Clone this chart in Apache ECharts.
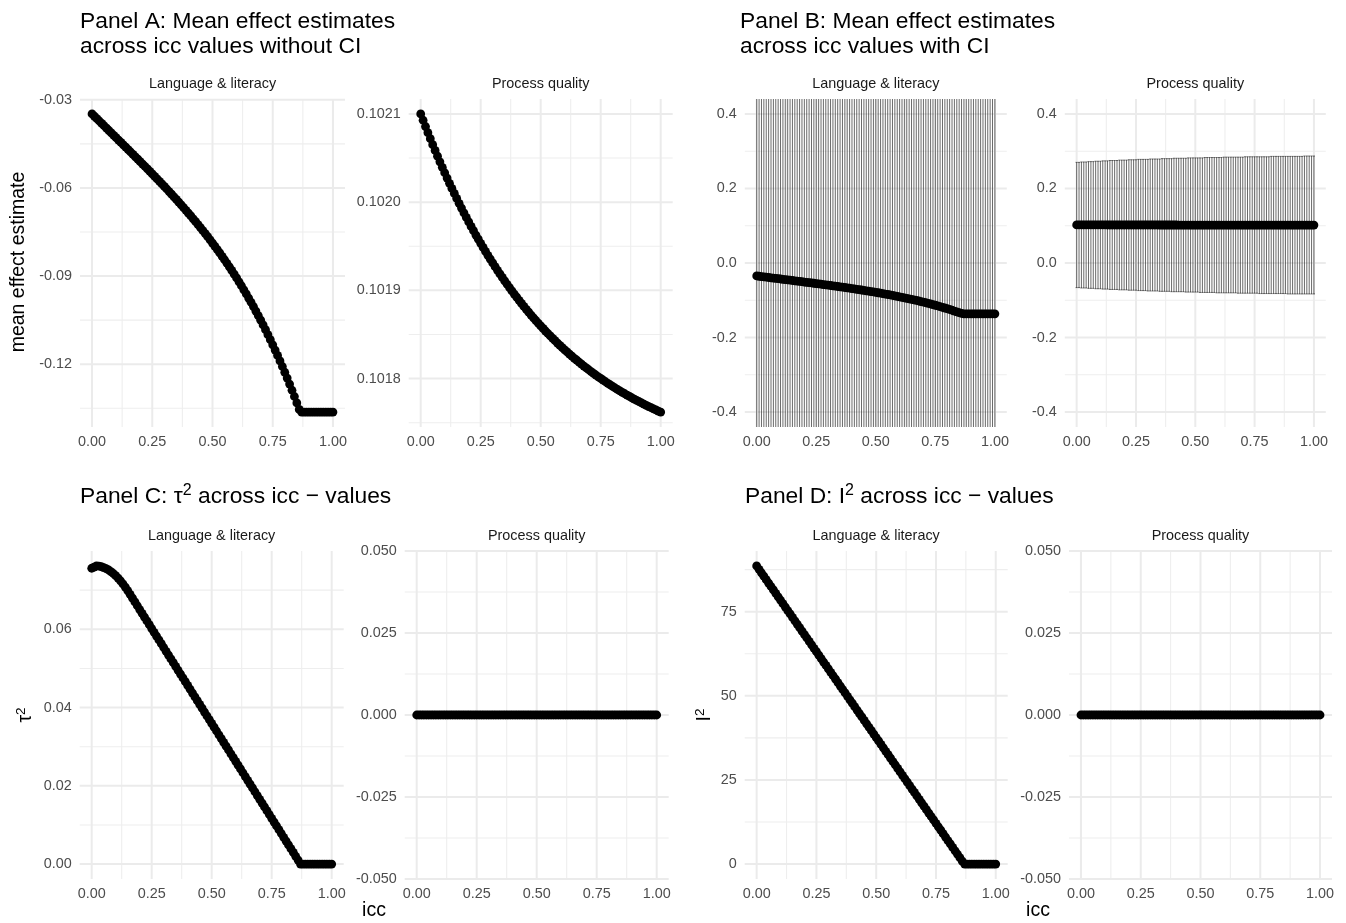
<!DOCTYPE html>
<html><head><meta charset="utf-8">
<script src="https://cdn.jsdelivr.net/npm/echarts@6/dist/echarts.min.js"></script>
<style>html,body{margin:0;padding:0;background:#fff}#c{width:1346px;height:923px}</style>
</head><body><div id="c"></div>
<script>
// ---------- data ----------
const icc = [0,0.01,0.02,0.03,0.04,0.05,0.06,0.07,0.08,0.09,
0.1,0.11,0.12,0.13,0.14,0.15,0.16,0.17,0.18,0.19,
0.2,0.21,0.22,0.23,0.24,0.25,0.26,0.27,0.28,0.29,
0.3,0.31,0.32,0.33,0.34,0.35,0.36,0.37,0.38,0.39,
0.4,0.41,0.42,0.43,0.44,0.45,0.46,0.47,0.48,0.49,
0.5,0.51,0.52,0.53,0.54,0.55,0.56,0.57,0.58,0.59,
0.6,0.61,0.62,0.63,0.64,0.65,0.66,0.67,0.68,0.69,
0.7,0.71,0.72,0.73,0.74,0.75,0.76,0.77,0.78,0.79,
0.8,0.81,0.82,0.83,0.84,0.85,0.86,0.87,0.88,0.89,
0.9,0.91,0.92,0.93,0.94,0.95,0.96,0.97,0.98,0.99,1];

const facets = ["Language & literacy", "Process quality"];

// mean effect estimate, Language & literacy
const langMean = [-0.03480,-0.03561,-0.03642,-0.03722,-0.03803,-0.03884,-0.03965,-0.04046,-0.04127,-0.04208,
-0.04289,-0.04370,-0.04451,-0.04532,-0.04613,-0.04695,-0.04777,-0.04858,-0.04940,-0.05023,
-0.05105,-0.05188,-0.05271,-0.05354,-0.05438,-0.05522,-0.05607,-0.05692,-0.05777,-0.05863,
-0.05950,-0.06037,-0.06125,-0.06214,-0.06303,-0.06393,-0.06484,-0.06576,-0.06669,-0.06763,
-0.06858,-0.06954,-0.07051,-0.07149,-0.07248,-0.07349,-0.07452,-0.07555,-0.07660,-0.07767,
-0.07876,-0.07986,-0.08098,-0.08211,-0.08327,-0.08445,-0.08564,-0.08686,-0.08810,-0.08937,
-0.09065,-0.09197,-0.09330,-0.09467,-0.09606,-0.09748,-0.09892,-0.10040,-0.10191,-0.10345,
-0.10502,-0.10663,-0.10827,-0.10994,-0.11165,-0.11340,-0.11519,-0.11702,-0.11889,-0.12079,
-0.12275,-0.12474,-0.12678,-0.12887,-0.13100,-0.13318,-0.13541,-0.13630,-0.13630,-0.13630,
-0.13630,-0.13630,-0.13630,-0.13630,-0.13630,-0.13630,-0.13630,-0.13630,-0.13630,-0.13630,-0.13630];

// mean effect estimate, Process quality
const procMean = [0.1021000,0.1020928,0.1020857,0.1020787,0.1020719,0.1020651,0.1020586,0.1020521,0.1020457,0.1020394,
0.1020333,0.1020273,0.1020213,0.1020155,0.1020098,0.1020042,0.1019987,0.1019933,0.1019879,0.1019827,
0.1019776,0.1019725,0.1019676,0.1019627,0.1019580,0.1019533,0.1019487,0.1019441,0.1019397,0.1019353,
0.1019311,0.1019268,0.1019227,0.1019186,0.1019147,0.1019107,0.1019069,0.1019031,0.1018994,0.1018958,
0.1018922,0.1018887,0.1018852,0.1018818,0.1018785,0.1018752,0.1018720,0.1018689,0.1018658,0.1018627,
0.1018597,0.1018568,0.1018539,0.1018511,0.1018483,0.1018456,0.1018429,0.1018402,0.1018376,0.1018351,
0.1018326,0.1018302,0.1018277,0.1018254,0.1018230,0.1018208,0.1018185,0.1018163,0.1018142,0.1018120,
0.1018100,0.1018079,0.1018059,0.1018039,0.1018020,0.1018001,0.1017982,0.1017964,0.1017945,0.1017928,
0.1017910,0.1017893,0.1017876,0.1017860,0.1017844,0.1017828,0.1017812,0.1017797,0.1017782,0.1017767,
0.1017752,0.1017738,0.1017724,0.1017710,0.1017697,0.1017683,0.1017670,0.1017657,0.1017645,0.1017632,0.1017620];

// 95% CI, Language & literacy (extends beyond the shown range)
const langLower = [-0.63,-0.64,-0.64,-0.64,-0.64,-0.64,-0.64,-0.64,-0.64,-0.64,
-0.64,-0.64,-0.64,-0.65,-0.65,-0.65,-0.65,-0.65,-0.65,-0.65,
-0.65,-0.65,-0.65,-0.65,-0.65,-0.66,-0.66,-0.66,-0.66,-0.66,
-0.66,-0.66,-0.66,-0.66,-0.66,-0.66,-0.66,-0.67,-0.67,-0.67,
-0.67,-0.67,-0.67,-0.67,-0.67,-0.67,-0.67,-0.68,-0.68,-0.68,
-0.68,-0.68,-0.68,-0.68,-0.68,-0.68,-0.69,-0.69,-0.69,-0.69,
-0.69,-0.69,-0.69,-0.69,-0.70,-0.70,-0.70,-0.70,-0.70,-0.70,
-0.71,-0.71,-0.71,-0.71,-0.71,-0.71,-0.72,-0.72,-0.72,-0.72,
-0.72,-0.72,-0.73,-0.73,-0.73,-0.73,-0.74,-0.74,-0.74,-0.74,
-0.74,-0.74,-0.74,-0.74,-0.74,-0.74,-0.74,-0.74,-0.74,-0.74,-0.74];
const langUpper = [0.57,0.56,0.56,0.56,0.56,0.56,0.56,0.56,0.56,0.56,
0.56,0.56,0.56,0.55,0.55,0.55,0.55,0.55,0.55,0.55,
0.55,0.55,0.55,0.55,0.55,0.54,0.54,0.54,0.54,0.54,
0.54,0.54,0.54,0.54,0.54,0.54,0.54,0.53,0.53,0.53,
0.53,0.53,0.53,0.53,0.53,0.53,0.53,0.52,0.52,0.52,
0.52,0.52,0.52,0.52,0.52,0.52,0.51,0.51,0.51,0.51,
0.51,0.51,0.51,0.51,0.50,0.50,0.50,0.50,0.50,0.50,
0.49,0.49,0.49,0.49,0.49,0.49,0.48,0.48,0.48,0.48,
0.48,0.48,0.47,0.47,0.47,0.47,0.46,0.46,0.46,0.46,
0.46,0.46,0.46,0.46,0.46,0.46,0.46,0.46,0.46,0.46,0.46];

// 95% CI, Process quality
const procLower = [-0.066,-0.066,-0.067,-0.067,-0.067,-0.068,-0.068,-0.068,-0.069,-0.069,
-0.069,-0.070,-0.070,-0.070,-0.071,-0.071,-0.071,-0.071,-0.072,-0.072,
-0.072,-0.072,-0.073,-0.073,-0.073,-0.073,-0.074,-0.074,-0.074,-0.074,
-0.075,-0.075,-0.075,-0.075,-0.075,-0.076,-0.076,-0.076,-0.076,-0.076,
-0.077,-0.077,-0.077,-0.077,-0.077,-0.077,-0.078,-0.078,-0.078,-0.078,
-0.078,-0.078,-0.079,-0.079,-0.079,-0.079,-0.079,-0.079,-0.079,-0.080,
-0.080,-0.080,-0.080,-0.080,-0.080,-0.080,-0.080,-0.080,-0.081,-0.081,
-0.081,-0.081,-0.081,-0.081,-0.081,-0.081,-0.081,-0.082,-0.082,-0.082,
-0.082,-0.082,-0.082,-0.082,-0.082,-0.082,-0.082,-0.082,-0.082,-0.083,
-0.083,-0.083,-0.083,-0.083,-0.083,-0.083,-0.083,-0.083,-0.083,-0.083,-0.083];
const procUpper = [0.270,0.270,0.271,0.271,0.271,0.272,0.272,0.272,0.273,0.273,
0.273,0.274,0.274,0.274,0.275,0.275,0.275,0.275,0.276,0.276,
0.276,0.276,0.277,0.277,0.277,0.277,0.278,0.278,0.278,0.278,
0.278,0.279,0.279,0.279,0.279,0.279,0.280,0.280,0.280,0.280,
0.280,0.281,0.281,0.281,0.281,0.281,0.281,0.282,0.282,0.282,
0.282,0.282,0.282,0.282,0.283,0.283,0.283,0.283,0.283,0.283,
0.283,0.283,0.284,0.284,0.284,0.284,0.284,0.284,0.284,0.284,
0.284,0.285,0.285,0.285,0.285,0.285,0.285,0.285,0.285,0.285,
0.285,0.285,0.286,0.286,0.286,0.286,0.286,0.286,0.286,0.286,
0.286,0.286,0.286,0.286,0.286,0.286,0.287,0.287,0.287,0.287,0.287];

// tau^2
const langTau2 = [0.0756,0.0759,0.0762,0.07613,0.07599,0.07578,0.07551,0.07516,0.07474,0.07426,
0.07370,0.07308,0.07239,0.07163,0.07080,0.06990,0.06893,0.06796,0.06699,0.06602,
0.06505,0.06408,0.06311,0.06214,0.06117,0.06020,0.05923,0.05826,0.05729,0.05632,
0.05535,0.05438,0.05341,0.05244,0.05147,0.05050,0.04953,0.04856,0.04759,0.04662,
0.04565,0.04468,0.04371,0.04274,0.04177,0.04080,0.03983,0.03886,0.03789,0.03692,
0.03595,0.03498,0.03401,0.03304,0.03207,0.03110,0.03013,0.02916,0.02819,0.02722,
0.02625,0.02528,0.02431,0.02334,0.02237,0.02140,0.02043,0.01946,0.01849,0.01752,
0.01655,0.01558,0.01461,0.01364,0.01267,0.01170,0.01073,0.00976,0.00879,0.00782,
0.00685,0.00588,0.00491,0.00394,0.00297,0.00200,0.00103,0,0,0,
0,0,0,0,0,0,0,0,0,0,0];
const procTau2 = [0,0,0,0,0,0,0,0,0,0,0,0,0,0,0,0,0,0,0,0,0,0,0,0,0,0,0,0,0,0,0,0,0,0,0,0,0,0,0,0,0,0,0,0,0,0,0,0,0,0,
0,0,0,0,0,0,0,0,0,0,0,0,0,0,0,0,0,0,0,0,0,0,0,0,0,0,0,0,0,0,0,0,0,0,0,0,0,0,0,0,0,0,0,0,0,0,0,0,0,0,0];

// I^2
const langI2 = [88.60,87.58,86.56,85.54,84.52,83.50,82.48,81.46,80.44,79.42,
78.40,77.38,76.36,75.34,74.32,73.30,72.28,71.26,70.24,69.22,
68.20,67.18,66.16,65.14,64.12,63.10,62.08,61.06,60.04,59.02,
58.00,56.98,55.96,54.94,53.92,52.90,51.88,50.86,49.84,48.82,
47.80,46.78,45.76,44.74,43.72,42.70,41.68,40.66,39.64,38.62,
37.60,36.58,35.56,34.54,33.52,32.50,31.48,30.46,29.44,28.42,
27.40,26.38,25.36,24.34,23.32,22.30,21.28,20.26,19.24,18.22,
17.20,16.18,15.16,14.14,13.12,12.10,11.08,10.06,9.04,8.02,
7.00,5.98,4.96,3.94,2.92,1.90,0.88,0,0,0,
0,0,0,0,0,0,0,0,0,0,0];
const procI2 = [0,0,0,0,0,0,0,0,0,0,0,0,0,0,0,0,0,0,0,0,0,0,0,0,0,0,0,0,0,0,0,0,0,0,0,0,0,0,0,0,0,0,0,0,0,0,0,0,0,0,
0,0,0,0,0,0,0,0,0,0,0,0,0,0,0,0,0,0,0,0,0,0,0,0,0,0,0,0,0,0,0,0,0,0,0,0,0,0,0,0,0,0,0,0,0,0,0,0,0,0,0];

// tick labels (major) and minor gridline positions
const xTicks = [0, 0.25, 0.5, 0.75, 1];
const xMinor = [0.125, 0.375, 0.625, 0.875];
const yTicksMeanLang = [-0.12, -0.09, -0.06, -0.03];
const yMinorMeanLang = [-0.135, -0.105, -0.075, -0.045];
const yTicksMeanProc = [0.1018, 0.1019, 0.1020, 0.1021];
const yMinorMeanProc = [0.10175, 0.10185, 0.10195, 0.10205];
const yTicksCI = [-0.4, -0.2, 0, 0.2, 0.4];
const yMinorCI = [-0.3, -0.1, 0.1, 0.3];
const yTicksTau2Lang = [0, 0.02, 0.04, 0.06];
const yMinorTau2Lang = [0.01, 0.03, 0.05, 0.07];
const yTicksZero = [-0.05, -0.025, 0, 0.025, 0.05];
const yMinorZero = [-0.0375, -0.0125, 0.0125, 0.0375];
const yTicksI2Lang = [0, 25, 50, 75];
const yMinorI2Lang = [12.5, 37.5, 62.5, 87.5];

// ---------- layout ----------
const FONT = '"Liberation Sans", Arial, Helvetica, sans-serif';
const TICK_COLOR = '#4D4D4D';
const H = 328;
const panels = [
  {l:80,    t:99,  w:265, y:langMean,  ymin:-0.14138, ymax:-0.02973, ticks:yTicksMeanLang, minor:yMinorMeanLang, dec:2, strip:facets[0]},
  {l:408.7, t:99,  w:264, y:procMean,  ymin:0.1017451, ymax:0.1021169, ticks:yTicksMeanProc, minor:yMinorMeanProc, dec:4, strip:facets[1]},
  {l:744.8, t:99,  w:262, y:langMean,  lo:langLower, hi:langUpper, ymin:-0.44, ymax:0.44, ticks:yTicksCI, minor:yMinorCI, dec:1, strip:facets[0], ci:true},
  {l:1064.8,t:99,  w:261, y:procMean,  lo:procLower, hi:procUpper, ymin:-0.44, ymax:0.44, ticks:yTicksCI, minor:yMinorCI, dec:1, strip:facets[1], ci:true},
  {l:79.7,  t:551, w:264, y:langTau2,  ymin:-0.00381, ymax:0.08001, ticks:yTicksTau2Lang, minor:yMinorTau2Lang, dec:2, strip:facets[0]},
  {l:404.7, t:551, w:264, y:procTau2,  ymin:-0.05, ymax:0.05, ticks:yTicksZero, minor:yMinorZero, dec:3, strip:facets[1]},
  {l:744.7, t:551, w:263, y:langI2,    ymin:-4.43, ymax:93.03, ticks:yTicksI2Lang, minor:yMinorI2Lang, dec:0, strip:facets[0]},
  {l:1069,  t:551, w:263, y:procI2,    ymin:-0.05, ymax:0.05, ticks:yTicksZero, minor:yMinorZero, dec:3, strip:facets[1]}
];

function gridRender(params, api) {
  const cs = params.coordSys;
  const kind = api.value(2), major = api.value(3);
  const p = api.coord([api.value(0), api.value(1)]);
  const shape = kind === 0
    ? {x1: p[0], y1: cs.y, x2: p[0], y2: cs.y + cs.height}
    : {x1: cs.x, y1: p[1], x2: cs.x + cs.width, y2: p[1]};
  return {type: 'line', shape: shape, silent: true,
    style: {stroke: major ? '#EBEBEB' : '#EEEEEE', lineWidth: major ? 2 : 1.1}};
}

function errRender(params, api) {
  const cs = params.coordSys;
  const x = api.value(0), lo = api.value(1), hi = api.value(2);
  const pLo = api.coord([x, lo]), pHi = api.coord([x, hi]);
  const half = api.coord([x + 0.0045, lo])[0] - pLo[0];
  const top = cs.y, bot = cs.y + cs.height;
  const y1 = Math.max(pHi[1], top), y2 = Math.min(pLo[1], bot);
  const st = {stroke: '#1a1a1a', lineWidth: 0.65};
  const ch = [{type: 'line', shape: {x1: pLo[0], y1: y1, x2: pLo[0], y2: y2}, style: st}];
  if (pHi[1] >= top) ch.push({type: 'line', shape: {x1: pHi[0] - half, y1: pHi[1], x2: pHi[0] + half, y2: pHi[1]}, style: st});
  if (pLo[1] <= bot) ch.push({type: 'line', shape: {x1: pLo[0] - half, y1: pLo[1], x2: pLo[0] + half, y2: pLo[1]}, style: st});
  return {type: 'group', children: ch, silent: true};
}

const grid = [], xAxis = [], yAxis = [], series = [], graphic = [];
panels.forEach(function (p, i) {
  grid.push({left: p.l, top: p.t, width: p.w, height: H, containLabel: false, outerBoundsMode: 'none'});
  xAxis.push({type: 'value', gridIndex: i, min: -0.05, max: 1.05,
    axisLine: {show: false}, axisTick: {show: false}, splitLine: {show: false}, minorSplitLine: {show: false},
    axisLabel: {customValues: xTicks, formatter: function (v) { return v.toFixed(2); },
      color: TICK_COLOR, fontSize: 14.4, fontFamily: FONT, margin: 8}});
  yAxis.push({type: 'value', gridIndex: i, min: p.ymin, max: p.ymax,
    axisLine: {show: false}, axisTick: {show: false}, splitLine: {show: false}, minorSplitLine: {show: false},
    axisLabel: {customValues: p.ticks, formatter: function (v) { return v.toFixed(p.dec); },
      color: TICK_COLOR, fontSize: 14.4, fontFamily: FONT, margin: 8}});
  const midY = (p.ymin + p.ymax) / 2;
  const gdata = [];
  xMinor.forEach(function (v) { gdata.push([v, midY, 0, 0]); });
  p.minor.forEach(function (v) { gdata.push([0.5, v, 1, 0]); });
  xTicks.forEach(function (v) { gdata.push([v, midY, 0, 1]); });
  p.ticks.forEach(function (v) { gdata.push([0.5, v, 1, 1]); });
  series.push({type: 'custom', xAxisIndex: i, yAxisIndex: i, z: 1, silent: true,
    renderItem: gridRender, encode: {x: 0, y: 1}, data: gdata});
  if (p.ci) {
    series.push({type: 'custom', xAxisIndex: i, yAxisIndex: i, z: 2, silent: true,
      renderItem: errRender, encode: {x: 0, y: [1, 2]},
      data: icc.map(function (x, k) { return [x, p.lo[k], p.hi[k]]; })});
  }
  series.push({type: 'scatter', xAxisIndex: i, yAxisIndex: i, z: 3, silent: true,
    symbol: 'circle', symbolSize: 8.8, itemStyle: {color: '#000', opacity: 1},
    data: icc.map(function (x, k) { return [x, p.y[k]]; })});
  graphic.push({type: 'text', x: p.l + p.w / 2, y: p.t - 15, silent: true,
    style: {text: p.strip, fontSize: 14.4, fontFamily: FONT, fill: '#1A1A1A', align: 'center', verticalAlign: 'middle'}});
});

const TS = 22.8;
const T = {fontSize: TS, fontFamily: FONT, fill: '#000'};
function txt(x, y, s) {
  return {type: 'text', x: x, y: y, silent: true,
    style: Object.assign({text: s, align: 'left', verticalAlign: 'middle'}, T)};
}
graphic.push(txt(80, 22, 'Panel A: Mean effect estimates'));
graphic.push(txt(80, 47, 'across icc values without CI'));
graphic.push(txt(740, 22, 'Panel B: Mean effect estimates'));
graphic.push(txt(740, 47, 'across icc values with CI'));
const sup = {n: {fontSize: TS, fontFamily: FONT, fill: '#000', lineHeight: 28},
             s: {fontSize: 16, fontFamily: FONT, fill: '#000', verticalAlign: 'top', lineHeight: 28}};
graphic.push({type: 'text', x: 80, y: 497, silent: true,
  style: {text: '{n|Panel C: \u03c4}{s|2}{n| across icc \u2212 values}', rich: sup, align: 'left', verticalAlign: 'middle'}});
graphic.push({type: 'text', x: 745, y: 497, silent: true,
  style: {text: '{n|Panel D: I}{s|2}{n| across icc \u2212 values}', rich: sup, align: 'left', verticalAlign: 'middle'}});

const AS = 19.5;
const A = {fontSize: AS, fontFamily: FONT, fill: '#000'};
graphic.push({type: 'text', x: 19, y: 262, rotation: Math.PI / 2, silent: true,
  style: Object.assign({text: 'mean effect estimate', align: 'center', verticalAlign: 'middle'}, A)});
const supA = {n: {fontSize: AS, fontFamily: FONT, fill: '#000', lineHeight: 24},
              s: {fontSize: 13.5, fontFamily: FONT, fill: '#000', verticalAlign: 'top', lineHeight: 24}};
graphic.push({type: 'text', x: 26, y: 715, rotation: Math.PI / 2, silent: true,
  style: {text: '{n|\u03c4}{s|2}', rich: supA, align: 'center', verticalAlign: 'middle'}});
graphic.push({type: 'text', x: 705, y: 715, rotation: Math.PI / 2, silent: true,
  style: {text: '{n|I}{s|2}', rich: supA, align: 'center', verticalAlign: 'middle'}});
graphic.push({type: 'text', x: 374, y: 911, silent: true,
  style: Object.assign({text: 'icc', align: 'center', verticalAlign: 'middle'}, A)});
graphic.push({type: 'text', x: 1038, y: 911, silent: true,
  style: Object.assign({text: 'icc', align: 'center', verticalAlign: 'middle'}, A)});

const chart = echarts.init(document.getElementById('c'), null, {renderer: 'canvas'});
chart.setOption({animation: false, backgroundColor: '#fff', tooltip: {show: false},
  grid: grid, xAxis: xAxis, yAxis: yAxis, series: series, graphic: graphic});
</script></body></html>
